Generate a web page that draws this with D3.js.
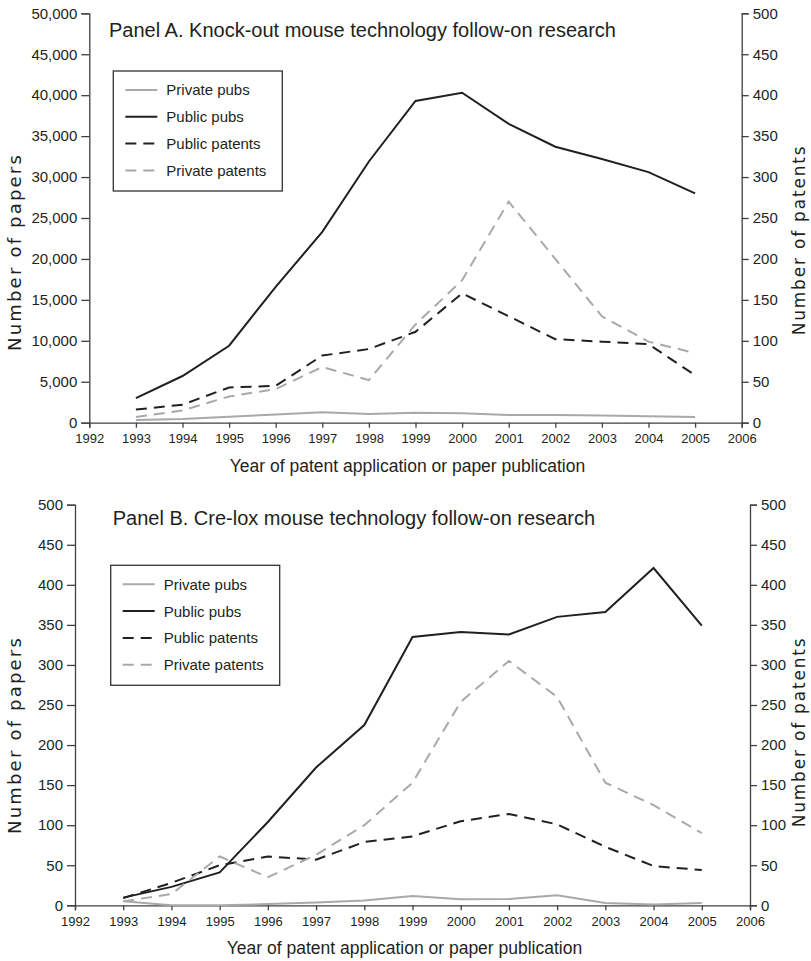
<!DOCTYPE html>
<html>
<head>
<meta charset="utf-8">
<script src="https://cdn.jsdelivr.net/npm/d3@7"></script>
<style>
body { margin: 0; background: #fff; }
text { font-family: "Liberation Sans", Arial, sans-serif; fill: #231f20; }
</style>
</head>
<body>
<svg id="chart" width="811" height="961"></svg>
<script>
var years = [1993, 1994, 1995, 1996, 1997, 1998, 1999, 2000, 2001, 2002, 2003, 2004, 2005];
var seriesNames = ["Private pubs", "Public pubs", "Public patents", "Private patents"];

// Panel A - knock-out
var koPrivatePubs = [330, 450, 730, 1000, 1280, 1060, 1220, 1150, 940, 940, 880, 780, 700];
var koPublicPubs = [3000, 5700, 9400, 16600, 23300, 31900, 39300, 40300, 36500, 33700, 32200, 30600, 28000];
var koPublicPatents = [16, 22, 43, 45, 82, 90, 111, 158, 130, 102, 99, 96, 58];
var koPrivatePatents = [7, 15, 32, 41, 68, 52, 120, 174, 270, 200, 130, 99, 85];

// Panel B - cre-lox
var clPrivatePubs = [5, 0, 0, 1.5, 3.5, 6, 11.5, 7.5, 8, 12.5, 3, 1, 3];
var clPublicPubs = [9.6, 23, 41, 104, 172, 225, 335, 341, 338, 360, 366, 421, 349];
var clPublicPatents = [9, 28, 50, 61, 57, 79, 86, 105, 114, 101, 73, 49, 44];
var clPrivatePatents = [5, 14, 61, 35, 63, 100, 153, 254, 305, 260, 153, 125, 90];

var BLACK = "#231f20", GRAY = "#a7a9ac", AXIS = "#404041";
var styles = [
	{color: GRAY, dash: null, right: false},
	{color: BLACK, dash: null, right: false},
	{color: BLACK, dash: "11,7", right: true},
	{color: GRAY, dash: "11,7", right: true}
];

var svg = d3.select("#chart");

function drawPanel(p) {
	var g = svg.append("g");
	var x = d3.scaleLinear().domain([1992, 2006]).range([p.left, p.right]);
	var yL = d3.scaleLinear().domain([0, p.leftMax]).range([p.bottom, p.top]);
	var yR = d3.scaleLinear().domain([0, 500]).range([p.bottom, p.top]);

	var xAxis = d3.axisBottom(x).tickValues(d3.range(1992, 2007)).tickFormat(d3.format("d")).tickSize(5).tickPadding(6);
	var lAxis = d3.axisLeft(yL).ticks(10).tickFormat(p.leftFmt).tickSize(8).tickPadding(4);
	var rAxis = d3.axisRight(yR).ticks(10).tickSize(7).tickPadding(4);

	var ax = g.append("g").attr("transform", "translate(0," + p.bottom + ")").call(xAxis);
	ax.selectAll("text").attr("font-size", 13);
	var al = g.append("g").attr("transform", "translate(" + p.left + ",0)").call(lAxis);
	al.selectAll("text").attr("font-size", 15);
	var ar = g.append("g").attr("transform", "translate(" + p.right + ",0)").call(rAxis);
	ar.selectAll("text").attr("font-size", 15);
	g.selectAll(".domain, .tick line").attr("stroke", AXIS).attr("stroke-width", 1.3);
	g.selectAll(".tick text").style("fill", BLACK).attr("font-family", "Liberation Sans, Arial, sans-serif");

	var line = function(ys) {
		return d3.line().x(function(d, i) { return x(years[i]); }).y(function(d) { return ys(d); });
	};
	p.series.forEach(function(vals, k) {
		var st = styles[k];
		g.append("path").datum(vals)
			.attr("d", line(st.right ? yR : yL))
			.attr("fill", "none")
			.attr("stroke", st.color)
			.attr("stroke-width", 2)
			.attr("stroke-dasharray", st.dash);
	});

	// title
	g.append("text").attr("x", p.titleX).attr("y", p.titleY).attr("font-size", 20).text(p.title);

	// axis titles
	g.append("text").attr("x", (p.left + p.right) / 2 - 8).attr("y", p.bottom + 49)
		.attr("text-anchor", "middle").attr("font-size", 17.5)
		.text("Year of patent application or paper publication");
	g.append("text").attr("transform", "translate(21," + p.leftLabelY + ") rotate(-90)")
		.attr("text-anchor", "middle").attr("font-size", 18).attr("letter-spacing", 2.2)
		.style("font-family", "DejaVu Sans, sans-serif").text("Number of papers");
	g.append("text").attr("transform", "translate(805," + p.rightLabelY + ") rotate(-90)")
		.attr("text-anchor", "middle").attr("font-size", 17).attr("letter-spacing", 1.8)
		.style("font-family", "DejaVu Sans, sans-serif").text("Number of patents");

	// legend
	var lg = g.append("g");
	lg.append("rect").attr("x", p.legX).attr("y", p.legY).attr("width", 169).attr("height", 120)
		.attr("fill", "#fff").attr("stroke", "#333").attr("stroke-width", 1.3);
	seriesNames.forEach(function(name, k) {
		var yy = p.legY + 19 + k * 26.8;
		lg.append("line").attr("x1", p.legX + 12).attr("x2", p.legX + 44)
			.attr("y1", yy).attr("y2", yy)
			.attr("stroke", styles[k].color).attr("stroke-width", 2)
			.attr("stroke-dasharray", styles[k].dash);
		lg.append("text").attr("x", p.legX + 53).attr("y", yy).attr("dy", "0.36em")
			.attr("font-size", 15).text(name);
	});
}

drawPanel({
	left: 89.3, right: 741.7, top: 13.3, bottom: 422.7, leftMax: 50000,
	leftFmt: d3.format(","),
	series: [koPrivatePubs, koPublicPubs, koPublicPatents, koPrivatePatents],
	title: "Panel A. Knock-out mouse technology follow-on research",
	titleX: 109, titleY: 37,
	leftLabelY: 252, rightLabelY: 240,
	legX: 113.3, legY: 71
});

drawPanel({
	left: 75, right: 750, top: 504.7, bottom: 905.3, leftMax: 500,
	leftFmt: d3.format("d"),
	series: [clPrivatePubs, clPublicPubs, clPublicPatents, clPrivatePatents],
	title: "Panel B. Cre-lox mouse technology follow-on research",
	titleX: 112.7, titleY: 525,
	leftLabelY: 735, rightLabelY: 732,
	legX: 110.7, legY: 565.3
});
</script>
</body>
</html>
